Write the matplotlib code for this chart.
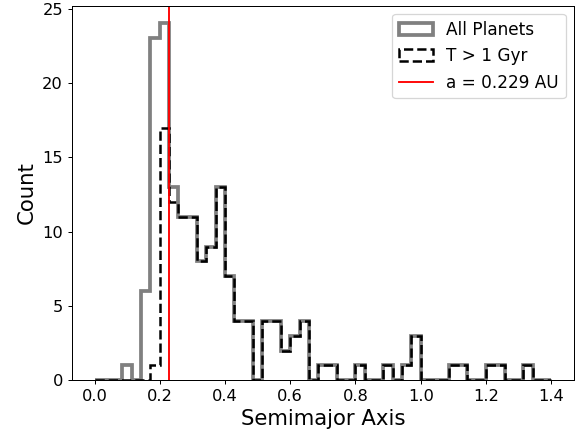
import numpy as np
import matplotlib
matplotlib.use('Agg')
import matplotlib.pyplot as plt

# bin edges: 49 equal bins between 0 and 1.4
bin_edges = np.linspace(0, 1.4, 50)

# counts per bin
all_counts = [0, 0, 0, 1, 0, 6, 23, 24, 13, 11, 11, 8, 9, 13, 7, 4, 4, 0,
              4, 4, 2, 3, 4, 0, 1, 1, 0, 0, 1, 0, 0, 1, 0, 1, 3, 0, 0, 0,
              1, 1, 0, 0, 1, 1, 0, 0, 1, 0, 0]
old_counts = [0, 0, 0, 0, 0, 0, 1, 17, 12, 11, 11, 8, 9, 13, 7, 4, 4, 0,
              4, 4, 2, 3, 4, 0, 1, 1, 0, 0, 1, 0, 0, 1, 0, 1, 3, 0, 0, 0,
              1, 1, 0, 0, 1, 1, 0, 0, 1, 0, 0]
a_cut = 0.229

centers = 0.5 * (bin_edges[:-1] + bin_edges[1:])

fig = plt.figure(figsize=(6.4, 434 / 90), dpi=90)
ax = fig.add_subplot(111)
fig.subplots_adjust(left=0.1245, right=0.9965, top=0.987, bottom=0.1237)

ax.hist(centers, bins=bin_edges, weights=all_counts, histtype='step',
        color='gray', linewidth=3, label='All Planets')
ax.hist(centers, bins=bin_edges, weights=old_counts, histtype='step',
        color='black', linestyle='--', linewidth=2, label='T > 1 Gyr')
ax.axvline(a_cut, color='red', linewidth=1.5, label='a = %.3f AU' % a_cut)

ax.set_xlabel('Semimajor Axis', fontsize=17)
ax.set_ylabel('Count', fontsize=17)
ax.tick_params(labelsize=13)
ax.legend(loc='upper right', fontsize=13.5)

fig.savefig('out.png', dpi=90)
